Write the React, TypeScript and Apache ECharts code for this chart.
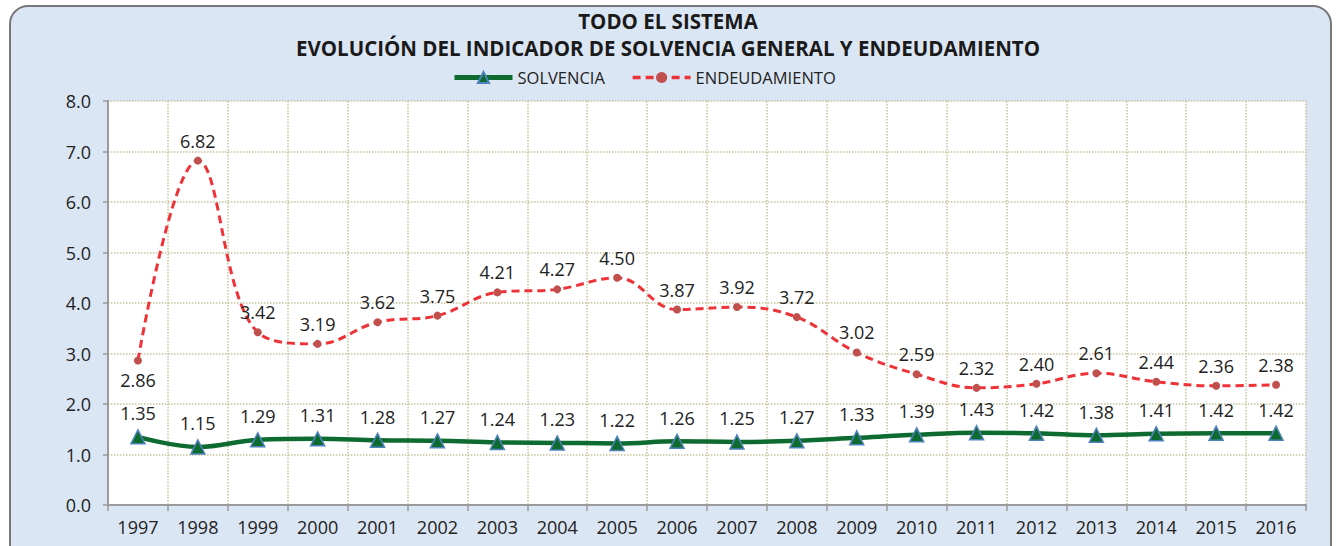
import React, { useEffect, useRef } from "react";
import * as echarts from "echarts";

const years = ["1997","1998","1999","2000","2001","2002","2003","2004","2005","2006","2007","2008","2009","2010","2011","2012","2013","2014","2015","2016"];
const solvencia = [1.35,1.15,1.29,1.31,1.28,1.27,1.24,1.23,1.22,1.26,1.25,1.27,1.33,1.39,1.43,1.42,1.38,1.41,1.42,1.42];
const endeudamiento = [2.86,6.82,3.42,3.19,3.62,3.75,4.21,4.27,4.50,3.87,3.92,3.72,3.02,2.59,2.32,2.40,2.61,2.44,2.36,2.38];
const yTicks = { min: 0, max: 8, interval: 1 };

const FONT = "'Open Sans', 'Noto Sans', sans-serif";

export default function App() {
  const ref = useRef<HTMLDivElement>(null);
  useEffect(() => {
    if (!ref.current) return;
    const chart = echarts.init(ref.current, undefined, { renderer: "svg" });
    const endData = endeudamiento.map((v, i) =>
      i === 0 ? { value: v, label: { position: "bottom", distance: 6 } } : v
    );
    chart.setOption({
      animation: false,
      backgroundColor: "#ffffff",
      textStyle: { fontFamily: FONT },
      graphic: [
        {
          type: "rect",
          z: -10,
          silent: true,
          shape: { x: 10, y: 6, width: 1321, height: 580, r: 18 },
          style: { fill: "#dbe6f4", stroke: "#777777", lineWidth: 2 },
        },
        {
          type: "rect",
          z: -9,
          silent: true,
          shape: { x: 108, y: 101, width: 1198, height: 404 },
          style: { fill: "#ffffff" },
        },
      ],
      title: {
        text: "TODO EL SISTEMA\nEVOLUCIÓN DEL INDICADOR DE SOLVENCIA GENERAL Y ENDEUDAMIENTO",
        left: "center",
        top: 2,
        textStyle: {
          fontFamily: FONT,
          fontSize: 20.5,
          fontWeight: "bold",
          color: "#1a1a1a",
          lineHeight: 27,
        },
      },
      legend: {
        top: 64,
        left: 447,
        itemWidth: 58,
        itemHeight: 14,
        itemGap: 26,
        textStyle: { fontFamily: FONT, fontSize: 16.5, color: "#222" },
        data: [
          { name: "SOLVENCIA", lineStyle: { width: 5 } },
          { name: "ENDEUDAMIENTO", lineStyle: { width: 3.5 } },
        ],
      },
      grid: { left: 108, right: 30, top: 101, bottom: 41 },
      xAxis: {
        type: "category",
        data: years,
        boundaryGap: true,
        axisLine: { lineStyle: { color: "#9a9a9a", width: 2 } },
        axisTick: { show: true, alignWithLabel: false, length: 6, lineStyle: { color: "#9a9a9a", width: 1.5 } },
        axisLabel: { fontFamily: FONT, fontSize: 18, color: "#222", margin: 13, interval: 0 },
        splitLine: { show: true, interval: 0, lineStyle: { color: "#c8c29c", type: "dotted", width: 1.5 } },
      },
      yAxis: {
        type: "value",
        min: yTicks.min,
        max: yTicks.max,
        interval: yTicks.interval,
        axisLine: { show: true, lineStyle: { color: "#9a9a9a", width: 2 } },
        axisTick: { show: true, length: 5, lineStyle: { color: "#9a9a9a", width: 1.5 } },
        axisLabel: { fontFamily: FONT, fontSize: 18, color: "#222", margin: 17, formatter: (v: number) => v.toFixed(1) },
        splitLine: { show: true, lineStyle: { color: "#c8c29c", type: "dotted", width: 1.5 } },
      },
      series: [
        {
          name: "SOLVENCIA",
          type: "line",
          data: solvencia,
          smooth: 0.4,
          symbol: "triangle",
          symbolSize: 14,
          lineStyle: { color: "#0e6b30", width: 4.5 },
          itemStyle: { color: "#0e6b30", borderColor: "#4f81bd", borderWidth: 1.5 },
          label: {
            show: true,
            position: "top",
            distance: 7,
            fontFamily: FONT,
            fontSize: 18,
            color: "#222",
            formatter: (p: any) => Number(p.value).toFixed(2),
          },
          z: 3,
        },
        {
          name: "ENDEUDAMIENTO",
          type: "line",
          data: endData,
          smooth: 0.4,
          symbol: "circle",
          symbolSize: 8,
          lineStyle: { color: "#ee3338", width: 3, type: [8, 5] },
          itemStyle: { color: "#c0504d" },
          label: {
            show: true,
            position: "top",
            distance: 7,
            fontFamily: FONT,
            fontSize: 18,
            color: "#222",
            formatter: (p: any) => Number(p.value).toFixed(2),
          },
          z: 2,
        },
      ],
    });
    return () => chart.dispose();
  }, []);
  return (
    <div
      ref={ref}
      style={{ position: "fixed", left: 0, top: 0, width: 1336, height: 546 }}
    />
  );
}
